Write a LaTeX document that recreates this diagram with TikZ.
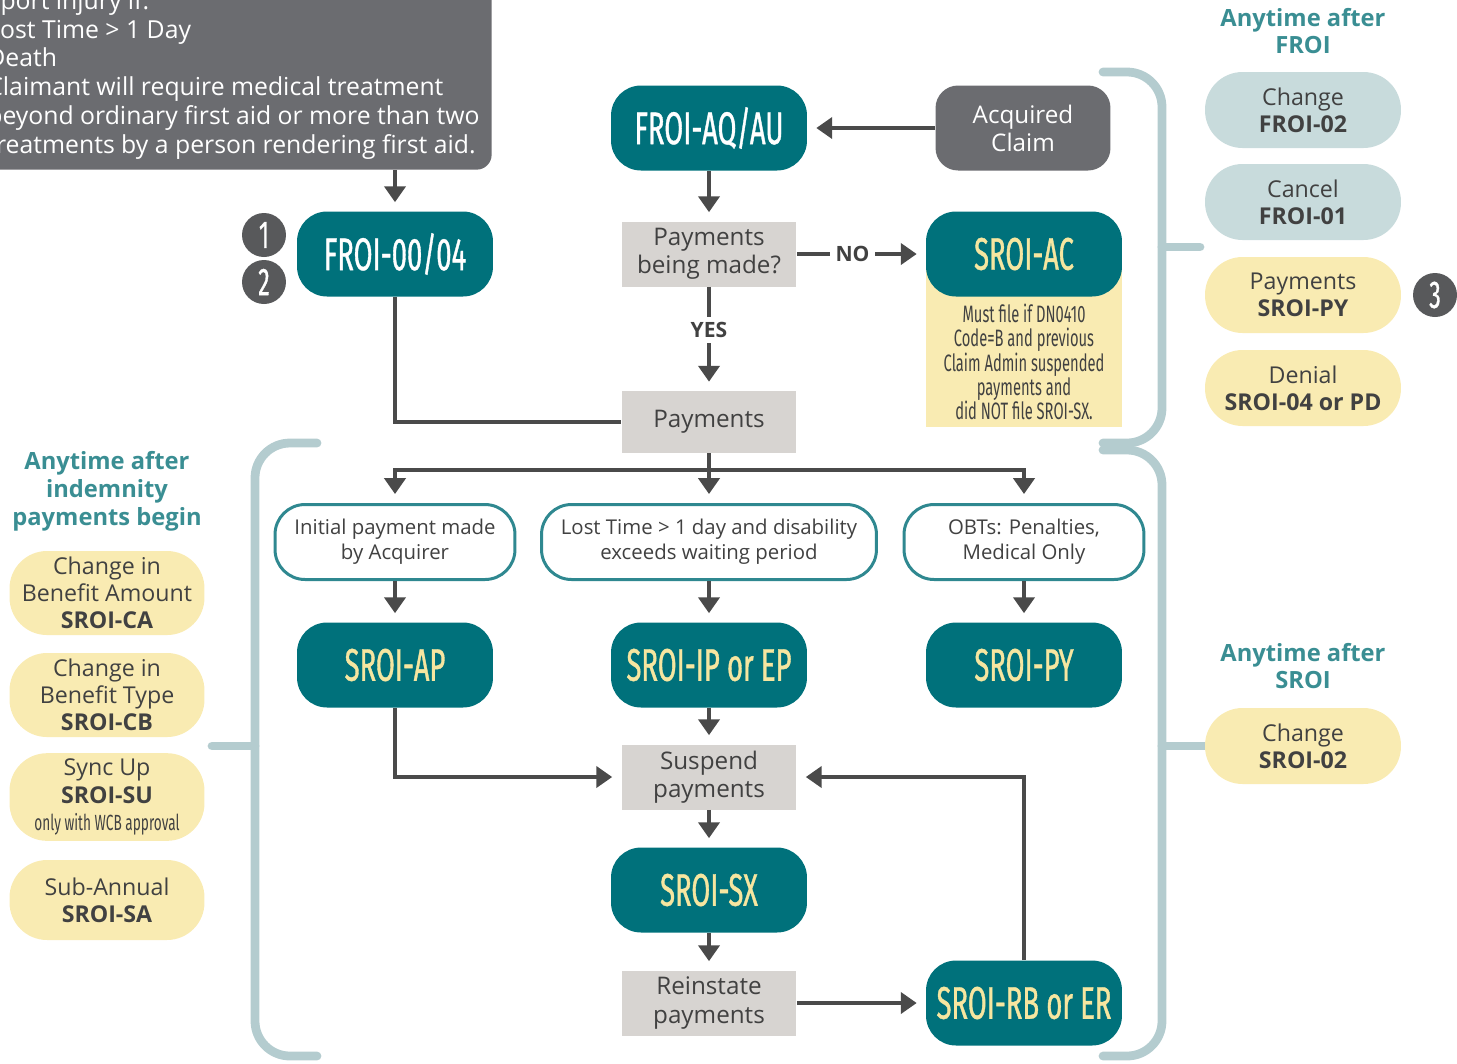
\documentclass[tikz,border=0pt]{standalone}
\usepackage{fontspec}
\setmainfont{Open Sans}
\newfontfamily\narrowfont[FakeStretch=0.62]{Fira Sans}
\newfontfamily\narrowheavy[FakeStretch=0.6, FakeBold=0.8]{Fira Sans}
\usetikzlibrary{positioning}
\usetikzlibrary{arrows.meta}

\definecolor{tealbox}{HTML}{00717B}
\definecolor{graydark}{HTML}{6B6C70}
\definecolor{graylight}{HTML}{D7D4D1}
\definecolor{pillyel}{HTML}{F9EBB2}
\definecolor{pillblu}{HTML}{C8DBDC}
\definecolor{bracecol}{HTML}{B4CCCF}
\definecolor{headteal}{HTML}{3A8E93}
\definecolor{numgray}{HTML}{58595B}
\definecolor{textdark}{HTML}{414141}
\definecolor{arrowgray}{HTML}{4A4A4A}
\definecolor{outlineteal}{HTML}{2F8890}
\definecolor{codeyel}{HTML}{F6E6A0}

\begin{document}
\begin{tikzpicture}[x=0.02cm, y=-0.02cm,
    formnode/.style={fill=tealbox, rounded corners=0.6cm, minimum width=3.92cm, minimum height=1.7cm,
      font=\narrowheavy\fontsize{26}{30}\selectfont, text=white},
    graybox/.style={fill=graylight, minimum width=3.5cm, minimum height=1.3cm, align=center,
      text=textdark, font=\fontsize{13.8}{16}\selectfont},
    condbox/.style={draw=outlineteal, line width=1.7pt, fill=white, rounded corners=0.6cm,
      minimum height=1.5cm, align=center, text=textdark, font=\fontsize{11.6}{14.2}\selectfont},
    pill/.style={rounded corners=0.75cm, minimum width=3.92cm, minimum height=1.52cm, align=center,
      text=textdark, font=\fontsize{13.2}{15.5}\selectfont},
    heading/.style={align=center, text=headteal, font=\bfseries\fontsize{13.5}{15.8}\selectfont},
    num/.style={circle, fill=numgray, minimum size=0.88cm, inner sep=0pt, text=white,
      font=\narrowheavy\fontsize{22}{24}\selectfont},
    lbl/.style={fill=white, inner sep=3pt, text=textdark, font=\bfseries\fontsize{12}{14}\selectfont},
    line/.style={draw=arrowgray, line width=2pt},
    arr/.style={line, -{Triangle[width=12pt,length=9pt]}, shorten >=0.18cm},
    brace/.style={draw=bracecol, line width=5pt, line cap=round, rounded corners=0.7cm}]

  \clip (0,0) rectangle (1457,1063);

  % Llaves
  \draw[brace] (1103,72) -- (1162,72) -- (1162,443) -- (1103,443);
  \draw[brace] (1162,247) -- (1200,247);
  \draw[brace] (1103,450) -- (1162,450) -- (1162,1056) -- (1103,1056);
  \draw[brace] (1162,746) -- (1205,746);
  \draw[brace] (317,443) -- (255,443) -- (255,1056) -- (317,1056);
  \draw[brace] (255,746) -- (212,746);

  % Aviso
  \node[fill=graydark, rounded corners=0.3cm, minimum width=11.2cm, minimum height=4.6cm,
    anchor=south east] (report) at (492,170) {};
  \node[anchor=north west, inner sep=0pt, align=left, text=white,
    font=\fontsize{14.1}{16.4}\selectfont] (reportlines) at (-29,-10)
    {Report injury if:\\
     \hspace*{0.32cm}Lost Time > 1 Day\\
     \hspace*{0.32cm}Death\\
     \hspace*{0.32cm}Claimant will require medical treatment\\
     \hspace*{0.32cm}beyond ordinary first aid or more than two\\
     \hspace*{0.32cm}treatments by a person rendering first aid.};

  % Nota amarilla
  \fill[pillyel] (926,270) rectangle (1122,427);
  \node[align=center, text=textdark, font=\narrowfont\fontsize{13.5}{13.8}\selectfont] (acnote) at (1024,362)
    {Must file if DN0410\\Code=B and previous\\Claim Admin suspended\\payments and\\did NOT file SROI-SX.};

  % Cajas
  \node[formnode] (aqau) at (709,128) {FROI-AQ/AU};
  \node[fill=graydark, rounded corners=0.45cm, minimum width=3.5cm, minimum height=1.7cm, align=center,
    text=white, font=\fontsize{13.8}{16}\selectfont] (acquired) at (1023,128) {Acquired\\Claim};
  \node[formnode] (froi00) at (395,254) {FROI-00/04};
  \node[graybox] (made) at (709,254) {Payments\\being made?};
  \node[formnode, text=codeyel] (ac) at (1024,254) {SROI-AC};
  \node[graybox, minimum height=1.24cm] (pay) at (709,422) {Payments};

  \node[condbox, minimum width=4.8cm] (initial) at (395,542) {Initial payment made\\by Acquirer};
  \node[condbox, minimum width=6.7cm] (losttime) at (709,542) {Lost Time > 1 day and disability\\exceeds waiting period};
  \node[condbox, minimum width=4.8cm] (obts) at (1024,542) {OBTs: Penalties,\\Medical Only};

  \node[formnode, text=codeyel] (ap) at (395,665) {SROI-AP};
  \node[formnode, text=codeyel] (ipep) at (709,665) {SROI-IP or EP};
  \node[formnode, text=codeyel] (sroipy) at (1024,665) {SROI-PY};
  \node[graybox] (suspend) at (709,777) {Suspend\\payments};
  \node[formnode, text=codeyel] (sx) at (709,890) {SROI-SX};
  \node[graybox] (reinstate) at (709,1003) {Reinstate\\payments};
  \node[formnode, text=codeyel] (rber) at (1024,1003) {SROI-RB or ER};

  \node[num] (one) at (264,235) {1};
  \node[num] (two) at (264,282) {2};
  \node[num] (three) at (1435,295) {3};

  % Flechas
  \draw[arr] (report.south -| froi00.north) -- (froi00.north);
  \draw[arr] (acquired.west) -- (aqau.east);
  \draw[arr] (aqau) -- (made);
  \draw[arr] (made.east) -- node[lbl, xshift=-5pt] {NO} (ac.west);
  \draw[arr] (made.south) -- node[lbl, yshift=5pt] {YES} (pay.north);
  \draw[line] (froi00.south) |- (pay.west);
  \coordinate (split) at (709,470);
  \draw[line] (pay.south) -- (split);
  \draw[arr] (split) -| (initial.north);
  \draw[arr] (split) -- (losttime.north);
  \draw[arr] (split) -| (obts.north);
  \draw[arr] (initial) -- (ap);
  \draw[arr] (losttime) -- (ipep);
  \draw[arr] (obts) -- (sroipy);
  \draw[arr] (ipep) -- (suspend);
  \draw[arr] (ap.south) |- (suspend.west);
  \draw[arr] (rber.north) |- (suspend.east);
  \draw[arr] (suspend) -- (sx);
  \draw[arr] (sx) -- (reinstate);
  \draw[arr] (reinstate) -- (rber);

  % Laterales
  \node[heading] (afterfroi) at (1303,31) {Anytime after\\FROI};
  \node[pill, fill=pillblu] (chfroi) at (1303,110) {Change\\\textbf{FROI-02}};
  \node[pill, fill=pillblu] (cancel) at (1303,202) {Cancel\\\textbf{FROI-01}};
  \node[pill, fill=pillyel] (paypy) at (1303,295) {Payments\\\textbf{SROI-PY}};
  \node[pill, fill=pillyel] (denial) at (1303,388) {Denial\\\textbf{SROI-04 or PD}};
  \node[heading] (aftersroi) at (1303,666) {Anytime after\\SROI};
  \node[pill, fill=pillyel] (chsroi) at (1303,746) {Change\\\textbf{SROI-02}};

  \node[heading] (afterindem) at (107,491) {Anytime after\\indemnity\\payments begin};
  \node[pill, fill=pillyel, minimum width=3.9cm, minimum height=1.6cm] (ca) at (107,593)
    {Change in\\Benefit Amount\\\textbf{SROI-CA}};
  \node[pill, fill=pillyel, minimum width=3.9cm, minimum height=1.6cm] (cb) at (107,695)
    {Change in\\Benefit Type\\\textbf{SROI-CB}};
  \node[pill, fill=pillyel, minimum width=3.9cm, minimum height=1.6cm] (su) at (107,797)
    {Sync Up\\\textbf{SROI-SU}\\{\narrowfont\fontsize{12.5}{13}\selectfont only with WCB approval}};
  \node[pill, fill=pillyel, minimum width=3.9cm, minimum height=1.6cm] (sa) at (107,900)
    {Sub-Annual\\\textbf{SROI-SA}};
\end{tikzpicture}
\end{document}
